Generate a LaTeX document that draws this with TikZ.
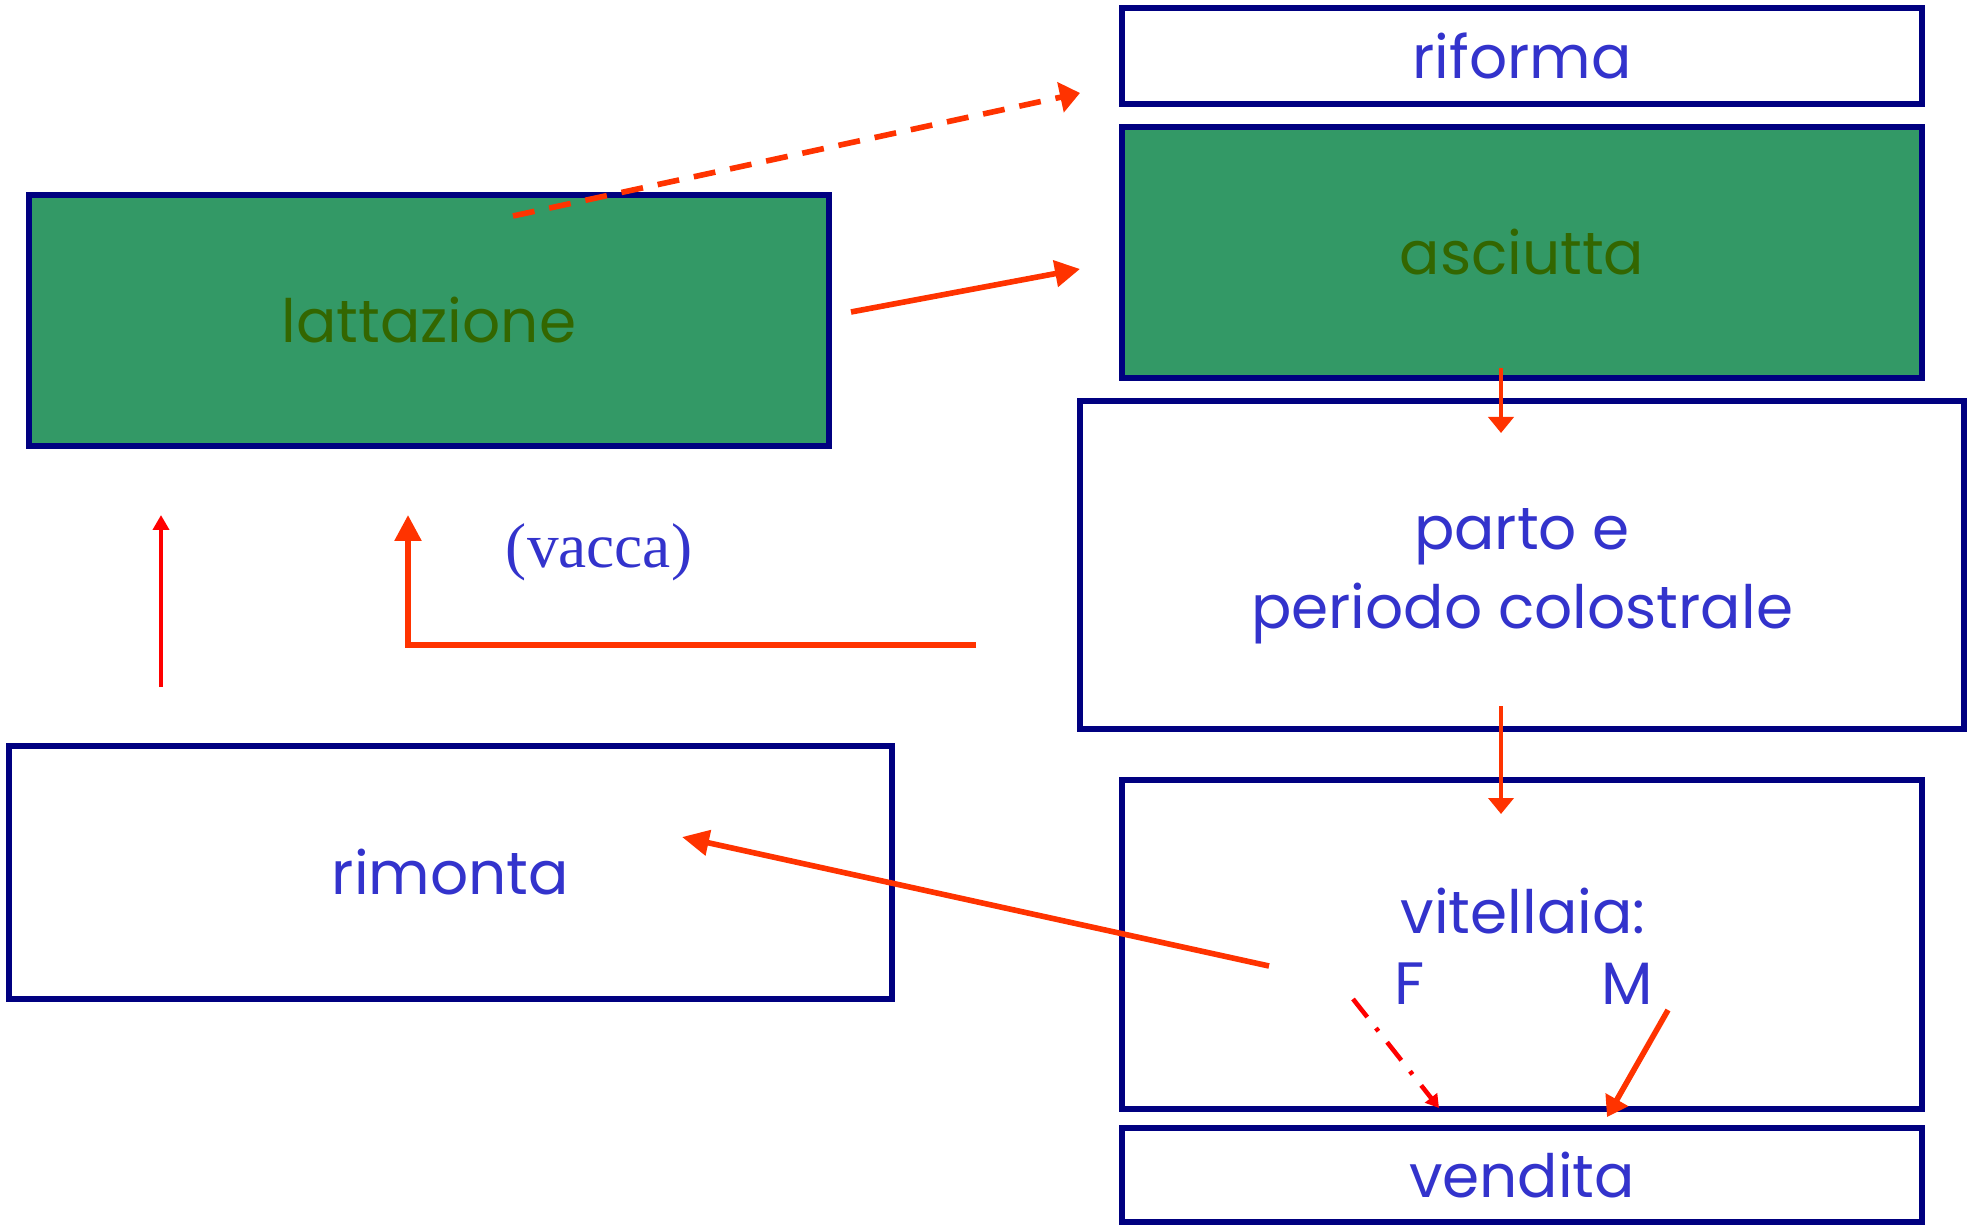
\documentclass[tikz,border=0pt]{standalone}
\usepackage{fontspec}
\setmainfont{Poppins}
\newfontfamily\serifvacca{Liberation Serif}
\usetikzlibrary{arrows.meta}
\definecolor{bordo}{RGB}{0,0,128}
\definecolor{testo}{RGB}{51,51,204}
\definecolor{verde}{RGB}{51,153,102}
\definecolor{verdescuro}{RGB}{51,102,0}
\definecolor{freccia}{RGB}{255,51,0}
\definecolor{rosso}{RGB}{255,0,0}

\begin{document}
\begin{tikzpicture}[line join=miter,font=\fontsize{17}{21}\selectfont]
	\tikzset{box/.style={draw=bordo,line width=1.6pt,text=testo,inner sep=0pt,align=center},
		piena/.style={box,fill=verde,text=verdescuro},
		fr/.style={draw=freccia,line width=1.6pt,-{Triangle[length=2.5mm,width=2.6mm]}},
		frsottile/.style={draw=freccia,line width=1.2pt,-{Triangle[length=1.6mm,width=2.5mm]}}}
	\useasboundingbox (0,0) rectangle (19.70,-12.25);
	% blocchi
	\node[box,minimum width=8cm,minimum height=0.96cm] (riforma) at (15.22,-0.56) {riforma};
	\node[piena,minimum width=8cm,minimum height=2.51cm] (asciutta) at (15.22,-2.525) {asciutta};
	\node[piena,minimum width=8cm,minimum height=2.51cm] (lattazione) at (4.29,-3.205) {lattazione};
	\node[box,minimum width=8.84cm,minimum height=3.28cm] (parto) at (15.22,-5.65) {};
	\node[box,minimum width=8.83cm,minimum height=2.53cm] (rimonta) at (4.505,-8.725) {rimonta};
	\node[box,minimum width=8cm,minimum height=3.29cm] (vitellaia) at (15.22,-9.445) {};
	\node[box,minimum width=8cm,minimum height=0.94cm] (vendita) at (15.22,-11.75) {vendita};
	\node[text=testo,align=center,font=\fontsize{17}{22.5}\selectfont] (colostro) at (15.22,-5.76) {parto e\\periodo colostrale};
	\node[text=testo] (vit) at (15.23,-9.11) {vitellaia:};
	\node[text=testo] (F) at (14.10,-9.84) {F};
	\node[text=testo] (M) at (16.27,-9.84) {M};
	\node[text=testo,font=\serifvacca\fontsize{18}{22}\selectfont] (vacca) at (5.99,-5.52) {(vacca)};
	% punti delle frecce
	\coordinate (lat1) at (5.13,-2.16); \coordinate (rif1) at (10.80,-0.93);
	\coordinate (lat2) at (8.51,-3.12); \coordinate (asc1) at (10.80,-2.69);
	\coordinate (asc2) at (15.01,-3.68); \coordinate (par1) at (15.01,-4.33);
	\coordinate (par2) at (15.01,-7.06); \coordinate (vit1) at (15.01,-8.14);
	\coordinate (par3) at (9.76,-6.45); \coordinate (ang) at (4.08,-6.45); \coordinate (lat3) at (4.08,-5.15);
	\coordinate (rim1) at (1.61,-6.87); \coordinate (lat4) at (1.61,-5.15);
	\coordinate (vit2) at (12.69,-9.66); \coordinate (rim2) at (6.82,-8.37);
	\coordinate (F1) at (13.53,-9.99); \coordinate (ven1) at (14.39,-11.08);
	\coordinate (M1) at (16.68,-10.10); \coordinate (ven2) at (16.07,-11.17);
	% frecce
	\draw[fr,dash pattern=on 2.2mm off 1.5mm,-{Triangle[length=2mm,width=3mm]}] (lat1) -- (rif1);
	\draw[fr] (lat2) -- (asc1);
	\draw[frsottile] (asc2) -- (par1);
	\draw[frsottile] (par2) -- (vit1);
	\draw[fr,-{Triangle[length=2.6mm,width=2.6mm]}] (par3) -- (ang) -- (lat3);
	\draw[draw=rosso,line width=1.4pt,-{Triangle[length=1.5mm,width=1.6mm]}] (rim1) -- (lat4);
	\draw[fr,-{Triangle[length=2.7mm,width=2.5mm]}] (vit2) -- (rim2);
	\draw[draw=rosso,line width=1.3pt,dash pattern=on 2.3mm off 1.4mm on 0.4mm off 1.4mm,-{Triangle[length=1.3mm,width=1.5mm]}] (F1) -- (ven1);
	\draw[fr,-{Triangle[length=2mm,width=2.5mm]}] (M1) -- (ven2);
\end{tikzpicture}
\end{document}
